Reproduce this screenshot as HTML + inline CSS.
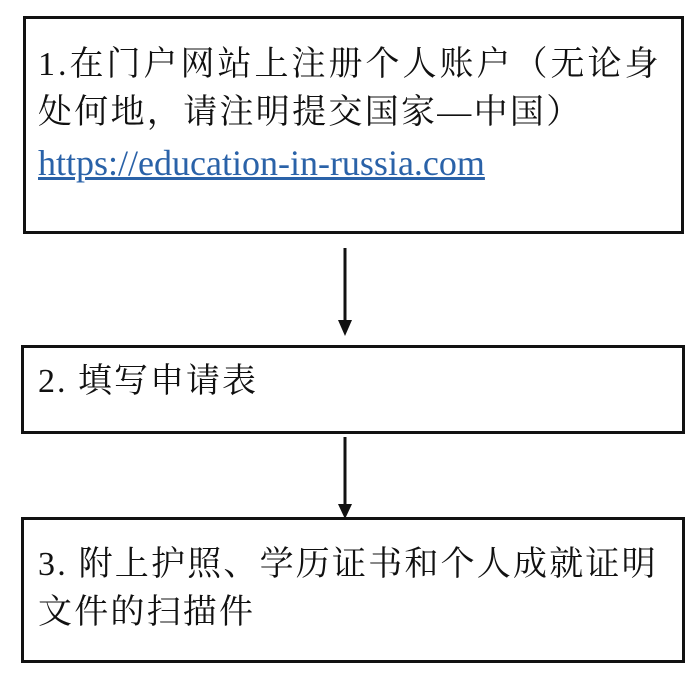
<!DOCTYPE html>
<html><head><meta charset="utf-8"><style>
html,body{margin:0;padding:0;background:#fff;}
body{width:692px;height:684px;position:relative;overflow:hidden;font-family:"Liberation Serif","Noto Serif CJK SC",serif;color:#111;}
.box{position:absolute;border:3px solid #111;box-sizing:border-box;}
.t{position:absolute;left:38px;font-size:34px;letter-spacing:3px;white-space:nowrap;line-height:1;}
a{color:#2a62a8;text-decoration:underline;letter-spacing:0;font-size:36px;}
</style></head><body>
<div class="box" style="left:23px;top:16px;width:661px;height:218px"></div>
<div class="t" style="top:48px">1.在门户网站上注册个人账户（无论身</div>
<div class="t" style="top:96px;letter-spacing:2.3px">处何地，请注明提交国家—中国）</div>
<div class="t" style="top:145px;letter-spacing:0"><a>https://education-in-russia.com</a></div>

<div class="box" style="left:21px;top:345px;width:664px;height:89px"></div>
<div class="t" style="top:365px;letter-spacing:2px">2. 填写申请表</div>

<div class="box" style="left:21px;top:517px;width:664px;height:146px"></div>
<div class="t" style="top:548px;letter-spacing:2.2px">3. 附上护照、学历证书和个人成就证明</div>
<div class="t" style="top:596px;letter-spacing:2.2px">文件的扫描件</div>

<svg width="692" height="684" style="position:absolute;left:0;top:0">
<line x1="345" y1="248" x2="345" y2="322" stroke="#111" stroke-width="3"/>
<polygon points="338,320 352,320 345,336" fill="#111"/>
<line x1="345" y1="437" x2="345" y2="506" stroke="#111" stroke-width="3"/>
<polygon points="338,504 352,504 345,519" fill="#111"/>
</svg>
</body></html>
